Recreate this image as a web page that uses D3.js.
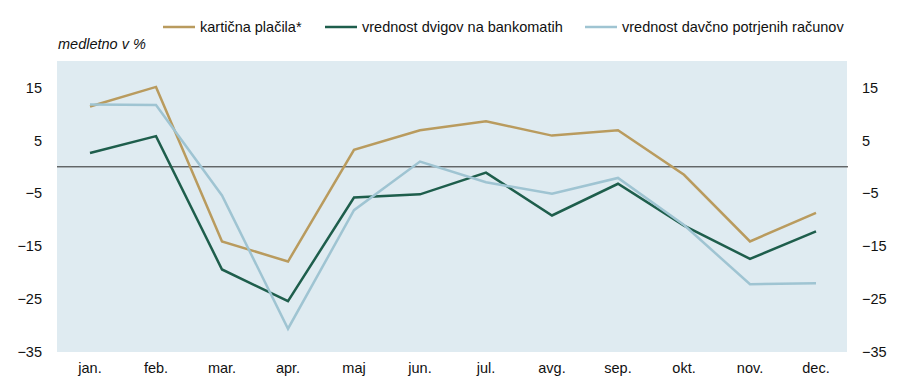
<!DOCTYPE html>
<html>
<head>
<meta charset="utf-8">
<script src="https://cdn.jsdelivr.net/npm/d3@7"></script>
<style>
body { margin: 0; background: #fff; }
text { font-family: "Liberation Sans", Arial, sans-serif; fill: #111; }
</style>
</head>
<body>
<div id="chart"></div>
<script>
var months = ['jan.', 'feb.', 'mar.', 'apr.', 'maj', 'jun.', 'jul.', 'avg.', 'sep.', 'okt.', 'nov.', 'dec.'];
var kartice = [11.4, 15.1, -14.1, -17.9, 3.2, 6.9, 8.6, 5.9, 6.9, -1.5, -14.1, -8.7];
var dvigi = [2.6, 5.8, -19.4, -25.4, -5.8, -5.2, -1.1, -9.2, -3.2, -11.1, -17.4, -12.2];
var racuni = [11.8, 11.7, -5.4, -30.6, -8.2, 1.0, -2.9, -5.1, -2.1, -11.0, -22.2, -22.0];
var yTicks = [15, 5, -5, -15, -25, -35];

var series = [
    { name: 'kartična plačila*', values: kartice, color: '#B99B5E', lx: 163 },
    { name: 'vrednost dvigov na bankomatih', values: dvigi, color: '#1E5E4C', lx: 325 },
    { name: 'vrednost davčno potrjenih računov', values: racuni, color: '#9FC4D2', lx: 585 }
];

var width = 900, height = 391;
var plotL = 57, plotR = 847, plotT = 61, plotB = 352;

var svg = d3.select('#chart').append('svg')
    .attr('width', width)
    .attr('height', height);

var x = d3.scaleBand().domain(months).range([plotL, plotR + 2]);
var y = d3.scaleLinear().domain([-35, 20]).range([plotB, plotT]);

svg.append('rect')
    .attr('x', plotL).attr('y', plotT)
    .attr('width', plotR - plotL).attr('height', plotB - plotT)
    .attr('fill', '#DFEBF1');

svg.append('line')
    .attr('x1', plotL).attr('x2', plotR + 1)
    .attr('y1', y(0)).attr('y2', y(0))
    .attr('stroke', '#2a2a2a').attr('stroke-width', 1);

var line = d3.line()
    .x(function(d, i){ return x(months[i]) + x.bandwidth() / 2; })
    .y(function(d){ return y(d); });

series.forEach(function(s){
    svg.append('path')
        .datum(s.values)
        .attr('d', line)
        .attr('fill', 'none')
        .attr('stroke', s.color)
        .attr('stroke-width', 2.5)
        .attr('stroke-linejoin', 'miter');
});

// axes
var yLeft = d3.axisLeft(y).tickValues(yTicks).tickSize(0).tickPadding(0);
var gl = svg.append('g').attr('transform', 'translate(42,0)').call(yLeft);
var yRight = d3.axisRight(y).tickValues(yTicks).tickSize(0).tickPadding(0);
var gr = svg.append('g').attr('transform', 'translate(862,0)').call(yRight);
var xAxis = d3.axisBottom(x).tickSize(0).tickPadding(0);
var gx = svg.append('g').attr('transform', 'translate(0,' + (plotB + 8) + ')').call(xAxis);

[gl, gr, gx].forEach(function(g){
    g.select('.domain').remove();
    g.selectAll('text')
        .style('font-size', '14.5px')
        .style('font-family', '"Liberation Sans", Arial, sans-serif')
        .attr('fill', '#111');
});
gx.selectAll('text').attr('dy', '0.9em');

svg.append('text')
    .attr('x', 58).attr('y', 49)
    .style('font-size', '14.5px')
    .style('font-style', 'italic')
    .text('medletno v %');

// legend
var lg = svg.selectAll('.legend').data(series).enter().append('g');
lg.append('line')
    .attr('x1', function(d){ return d.lx; })
    .attr('x2', function(d){ return d.lx + 32; })
    .attr('y1', 27).attr('y2', 27)
    .attr('stroke', function(d){ return d.color; })
    .attr('stroke-width', 2.5);
lg.append('text')
    .attr('x', function(d){ return d.lx + 37; })
    .attr('y', 32)
    .style('font-size', '14.5px')
    .text(function(d){ return d.name; });
</script>
</body>
</html>
